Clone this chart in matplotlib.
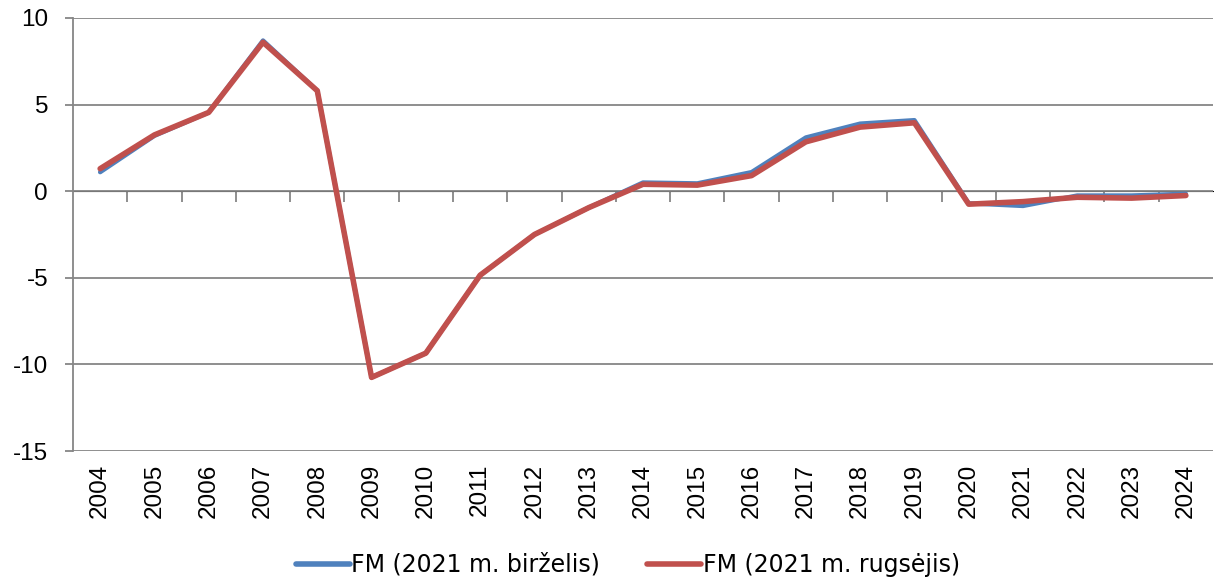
import matplotlib
matplotlib.use("Agg")
import matplotlib.pyplot as plt

# Data
years = ['2004', '2005', '2006', '2007', '2008', '2009', '2010', '2011', '2012', '2013', '2014',
         '2015', '2016', '2017', '2018', '2019', '2020', '2021', '2022', '2023', '2024']
fm_june = [1.1, 3.2, 4.55, 8.7, 5.8, -10.75, -9.35, -4.85, -2.5, -0.95, 0.5,
           0.45, 1.1, 3.1, 3.9, 4.1, -0.7, -0.85, -0.25, -0.25, -0.15]
fm_sept = [1.3, 3.25, 4.55, 8.6, 5.8, -10.75, -9.35, -4.85, -2.5, -0.95, 0.4,
           0.35, 0.9, 2.85, 3.7, 3.95, -0.75, -0.6, -0.35, -0.4, -0.25]
yticks = [-15, -10, -5, 0, 5, 10]

grey = '#868686'
plt.rcParams['font.family'] = ['Liberation Sans', 'DejaVu Sans']

fig = plt.figure(figsize=(12.14, 5.78), dpi=100)
ax = fig.add_axes([73 / 1214, 1 - 451 / 578, 1140 / 1214, 433 / 578])

x = list(range(len(years)))
ax.plot(x, fm_june, color='#4F81BD', lw=3.2, label='FM (2021 m. birželis)', solid_capstyle='round')
ax.plot(x, fm_sept, color='#C0504D', lw=4.0, label='FM (2021 m. rugsėjis)', solid_capstyle='round')

ax.set_xlim(-0.5, len(years) - 0.5)
ax.set_ylim(-15, 10)
ax.set_yticks(yticks)
ax.set_yticklabels([str(v) for v in yticks], fontsize=17.5)
ax.yaxis.grid(True, color=grey, lw=1.3)
ax.set_axisbelow(True)

ax.set_xticks(x)
ax.set_xticklabels(years, rotation=90, fontsize=17.5)
ax.tick_params(axis='x', length=0, pad=9)
ax.tick_params(axis='y', length=6, color=grey, width=1.3, pad=12)

for s in ['top', 'right', 'bottom']:
    ax.spines[s].set_visible(False)
ax.spines['left'].set_color(grey)
ax.spines['left'].set_linewidth(1.3)

# category boundary ticks hanging below the zero line
sec = ax.secondary_xaxis(15 / 25)
sec.set_xticks([i + 0.5 for i in x[:-1]])
sec.set_xticklabels([])
sec.tick_params(length=8, color=grey, width=1.3, direction='in')
sec.spines['bottom'].set_visible(False)

leg = fig.legend(loc='lower center', bbox_to_anchor=(0.517, -0.035), ncol=2, frameon=False,
                 prop={'family': 'DejaVu Sans', 'size': 17}, handlelength=2.3,
                 handletextpad=0.05, columnspacing=2.0)
for line in leg.get_lines():
    line.set_linewidth(4.0)

fig.savefig('out.png', dpi=100)
